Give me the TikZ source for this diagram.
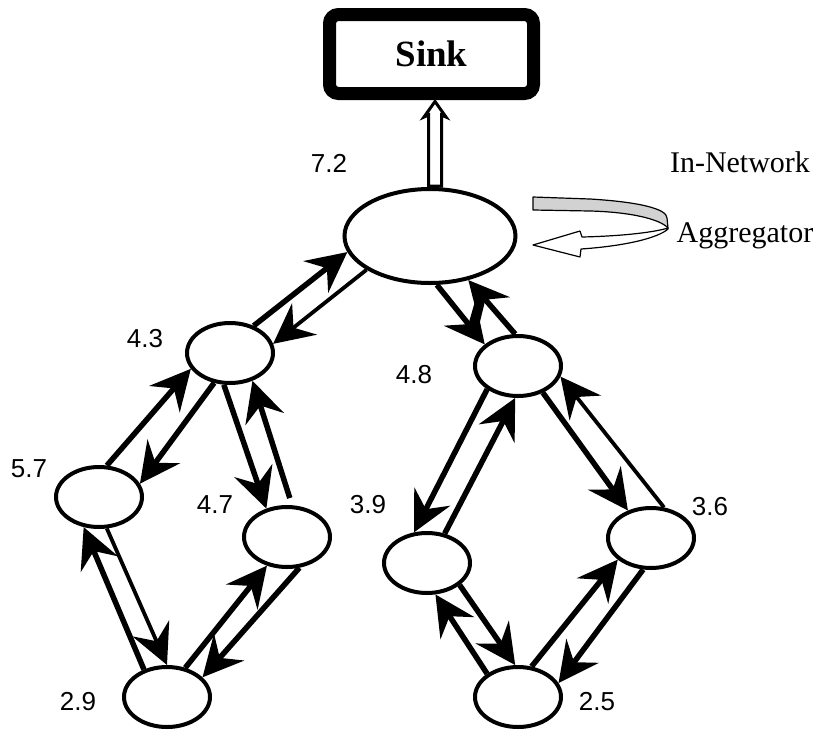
\documentclass[tikz,border=0pt]{standalone}
\usepackage{fontspec}
\setmainfont{Liberation Serif}
\setsansfont{Liberation Sans}
\usetikzlibrary{arrows.meta,calc,shapes.geometric}

\tikzset{
  sensor/.style={ellipse, draw, fill=white, line width=4pt, inner sep=0pt,
                 minimum width=86pt, minimum height=60pt},
  rootnode/.style={sensor, minimum width=171pt, minimum height=94pt},
  sinkbox/.style={draw, fill=white, line width=13pt, rounded corners=9pt,
                  minimum width=204pt, minimum height=79pt, inner sep=0pt,
                  font=\fontsize{37}{40}\selectfont\bfseries},
  reading/.style={anchor=base, inner sep=0pt, font=\fontsize{26}{30}\selectfont\sffamily},
  caption/.style={anchor=base, inner sep=0pt, font=\fontsize{30}{34}\selectfont},
  link/.style={line width=5.5pt, arrows={-Stealth[length=40pt,width=40pt,inset=14pt]}},
  linkthin/.style={link, line width=3.8pt},
  hollow/.style={draw, fill=white, line width=3pt, line join=miter},
  ribbon/.style={draw, line width=1.2pt, line join=round}
}

\begin{document}
\begin{tikzpicture}[x=1pt,y=-1pt]
\useasboundingbox (0,0) rectangle (817,729);

% sink and the tree of sensors
\node[sinkbox] (sink) at (431.5,54) {Sink};
\node[rootnode] (R) at (430,236) {};
\node[sensor] (A) at (230,353) {};
\node[sensor] (B) at (99,497) {};
\node[sensor] (C) at (287,537) {};
\node[sensor] (D) at (167,697) {};
\node[sensor] (E) at (518,366) {};
\node[sensor] (F) at (427,563) {};
\node[sensor] (G) at (651,538) {};
\node[sensor] (H) at (518,697) {};

% readings next to the sensors
\node[reading] (lR) at (329,172) {7.2};
\node[reading] (lA) at (145,347) {4.3};
\node[reading] (lB) at (29,477) {5.7};
\node[reading] (lC) at (215,513) {4.7};
\node[reading] (lD) at (78,710) {2.9};
\node[reading] (lE) at (414,383) {4.8};
\node[reading] (lF) at (368,513) {3.9};
\node[reading] (lG) at (710,515) {3.6};
\node[reading] (lH) at (597,710) {2.5};

% hollow arrow from the aggregator up to the sink
\coordinate (upTop) at ($(sink.south)+(3.5,0)$);
\coordinate (upBot) at (upTop |- R.north);
\path[hollow] ($(upBot)+(-6.5,-1)$) -- ($(upTop)+(-6.5,15)$) -- ($(upTop)+(-11,17)$)
  -- ($(upTop)+(0,1.5)$) -- ($(upTop)+(11,17)$) -- ($(upTop)+(6.5,15)$)
  -- ($(upBot)+(6.5,-1)$) -- cycle;

% two-way links between neighbouring sensors
\draw[link] (A.49) -- (R.191);
\draw[linkthin] (R.208) -- (A.12);
\draw[link] (B.76) -- (A.202);
\draw[link] (A.242) -- (B.18);
\draw[link] (A.259) -- (C.126);
\draw[link] ($(C.85)+(0,-7)$) coordinate (cTop) -- (A.309);
\draw[link] (D.130) -- (B.243);
\draw[linkthin] (B.284) -- (D.90);
\draw[link] (D.58) -- (C.235);
\draw[link] (C.292) -- (D.29);
\draw[link] (R.278) -- (E.147);
\draw[link] (E.95) -- (R.311);
\draw[link] (E.217) -- (F.113);
\draw[link] (F.59) -- (E.265);
\draw[link] (E.313) -- (G.130);
\draw[linkthin] (G.67) -- (E.346);
\draw[link] (H.143) -- (F.285);
\draw[link] (F.326) -- (H.95);
\draw[link] (H.66) -- (G.213);
\draw[link] (G.256) -- (H.19);

% in-network aggregation loop
\path[ribbon, fill=gray!35] (533,197) -- (590,199)
  .. controls (640,202) and (667,209) .. (667,218) -- (668,228)
  .. controls (660,219) and (630,212) .. (590,211) -- (533,210) -- cycle;
\path[ribbon, fill=white] (668,228)
  .. controls (655,232) and (625,236) .. (582,237) -- (580,231) -- (533,245)
  -- (580,257) -- (581,249) .. controls (625,246) and (658,238) .. (668,229) -- cycle;

\node[caption] (cap1) at (740,172) {In-Network};
\node[caption] (cap2) at (745,242) {Aggregator};
\end{tikzpicture}
\end{document}
